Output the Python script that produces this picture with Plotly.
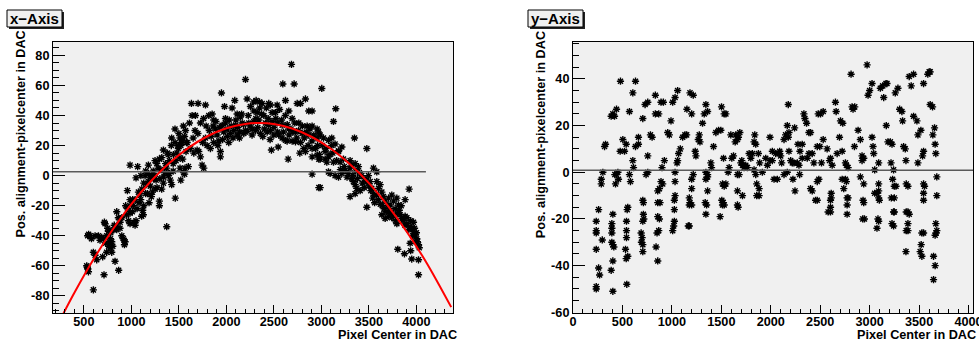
import plotly.graph_objects as go

# ---------------- data ----------------
LEFT_POINTS = [
    (600,-76),(712,-66),(866,-63),(828,-57),(530,-60),(541,-62),(548,-64),(536,-61),
    (600,-51),(618,-53),(635,-56),(698,-54),(740,-51),(793,-51),(804,-47),(769,-44),
    (540,-40),(565,-40),(618,-40),(653,-40),(688,-41),(705,-42),(670,-43),(550,-39),(580,-42),
    (723,-32),(716,-31),(758,-37),(783,-38),(740,-40),(793,-44),(776,-48),(846,-36),(846,-34),
    (899,-40),(916,-42),(934,-44),(927,-46),(923,-43),(863,-28),(881,-31),(846,-24),
    (951,-26),(986,-25),(1010,-24),(986,-32),(1028,-31),(1039,-33),(1049,-30),(1108,-27),(1126,-26),(1119,-23),
    (958,-10),(986,-16),(1014,-16),(1039,-16),(1074,-11),(1098,-16),
    (1049,-1.5),(1066,6),(986,7),(1144,0),(1179,1.5),(1196,-1),(1214,0),(1231,-2),
    (1186,-18),(1221,-11),(1249,-9),(1295,-20),(1295,-17),(1319,-9),(1337,-5),(1372,-34),(1389,0),(1424,-6),(1462,-15),(1400,1.5),
    (1295,11),(1337,17),(1389,14),(1442,14),(1494,18),(1512,25),(1547,33),(1459,31),(1424,25),(1512,5),(1564,5),(1529,22),(1575,16),
    (1249,10),(1179,7),(1267,8),
    (1100,0),(1150,3),(1180,-4),(1230,3),(1260,-3),(1280,5),(1320,12),(1340,-1),(1360,8),(1380,15),(1400,10),(1420,20),
    (1440,3),(1460,22),(1480,15),(1500,28),(1520,20),(1540,11),(1560,26),(1580,22),(1600,6),(1150,-12),(1160,-6),(1130,-20),
    (1550,2),(1560,1),(1520,-3),
    (730,-45),(750,-35),(760,-47),(780,-42),(810,-36),(820,-33),(880,-35),(900,-28),(940,-20),(960,-22),(970,-30),(1000,-19),
    (1020,-20),(1060,-22),(1080,-18),(1090,-13),(1110,-9),(1130,-5),(1170,-12),(1200,-7),(1210,-14),(1240,0),(1270,-8),
    (1300,-2),(1310,4),(1350,2),(1370,5),(1410,-3),(1440,8),(1470,10),(1490,20),(1510,12),(1530,24),(1570,30),
    (1632,48),(1702,48),(1780,47),(1639,40),(1674,40),(1611,35),(1727,35),(1787,33),(1815,40),(1850,41),(1867,37),
    (1948,55),(1980,46),(1990,38),(2088,50),(2060,45),(2113,41),(2148,39),(2201,64),(2218,51),(2253,46),(2288,49),
    (2313,50),(2348,49),(2376,48),(2323,42),(2394,40),(2446,48),(2464,47),(2481,42),(2534,47),(2516,42),(2622,50),
    (2594,61),(2685,74),(2713,61),(2657,43),(2692,38),(2745,48),(2780,48),(2832,51),(2867,43),(2902,43),(2762,35),
    (2850,33),(2902,33),(2955,31),
    (1587,22),(1622,18),(1657,15),(1692,17),(1727,12.5),(1744,7),(1762,5),(1709,16),(1797,20),(1832,18),(1867,22),
    (1902,27),(1920,23),(1937,16),(1937,12.5),(1972,29),(2008,31),(2025,22),(2043,28),(2078,30),(2113,27),(2137,25),
    (2183,28),(2218,29.5),(2271,31),(2306,30),(2358,28),(2383,26),(2429,29),(2464,30),(2499,27),(2551,27),(2587,25),
    (2622,23.5),(2639,23),(2692,23),(2727,22.5),(2474,17),(2545,19),(2650,11),(2773,15),(2815,18),(2832,16),(2902,12.5),
    (2902,1),(2973,-8),(2973,11),(2955,13.5),(2902,18),
    (1780,25),(1885,31),(1955,33.5),(2095,33.5),(2166,35),(2236,35),(2288,36),(2341,37),(2411,35),(2446,33.5),(2534,35),
    (2587,33.5),(2657,31),(2727,29),(2797,28),(2867,27),(2955,25),
    (1650,25),(1670,30),(1700,28),(1750,22),(1760,38),(1820,30),(1840,26),(1860,33),(1890,36),(1910,20),(1930,32),
    (1960,24),(1990,35),(2010,26),(2030,37),(2050,33),(2070,25),(2100,37),(2120,32),(2140,29),(2160,41),(2180,34),
    (2200,30),(2230,40),(2250,33),(2270,27),(2290,43),(2310,38),(2330,32),(2350,45),(2370,41),(2400,31),(2420,45),
    (2440,38),(2460,24),(2480,36),(2500,32),(2520,38),(2540,29),(2560,44),(2580,37),(2600,29),(2620,40),(2640,34),
    (2660,27),(2680,31),(2700,29),(2720,35),(2740,25),(2760,30),(2780,22),(2800,33),(2820,25),(2840,29),(2860,20),
    (2880,31),(2900,23),(2920,27),(2940,18),(2960,20),(2980,14),
    (3004,58),(3151,44.5),(3127,36),(3348,25),(3478,18),(3923,-9),(2969,29),(2987,27),(3022,25),(3074,23.5),(3109,25),
    (3144,21),(3180,16.5),(3215,19),(2987,11),(3039,11),(3057,9),(3074,12.5),(2987,-8),
    (3074,2.5),(3092,1.5),(3144,0),(3180,-1),(3215,1.5),(3250,3.5),(3302,10),(3320,7),(3355,8),(3390,6),
    (3285,1.5),(3320,-2),(3337,-4),(3355,-6),(3372,-8.5),(3408,-10),(3302,-14),(3355,-12),
    (3425,0),(3460,-2),(3495,0),(3513,-4),(3530,-8.5),(3548,-12),(3583,-4),(3601,-8.5),(3618,-6),(3478,-21),
    (3636,-11),(3653,-14),(3671,-17),(3706,-15),(3723,-19.5),(3741,-13),(3759,-17),(3794,-15),(3811,-19.5),(3881,-16),
    (3636,-26),(3671,-28.5),(3706,-27),(3723,-25),(3776,-22),(3794,-32),(3829,-26),(3846,-28.5),(3881,-27),(3899,-32),
    (3934,-34),(3969,-31),(3969,-37),(3987,-39.5),(4004,-42),(4022,-46),(3987,-44),(3951,-35),
    (3804,-49),(3874,-52),(3934,-45),(3951,-55.5),(4022,-56),(4022,-66),(3548,5),(3583,2.5),
    (3039,16),(3109,20),(3180,16),(3232,11),(3197,9),(3127,9),
    (3010,20),(3050,18),(3090,14),(3120,15),(3160,10),(3200,4),(3240,6),(3270,-1),(3300,5),(3330,0),(3360,3),(3380,-2),
    (3400,2),(3430,-5),(3450,-8),(3470,-4),(3500,-7),(3520,-10),(3540,-15),(3560,-18),(3580,-13),(3600,-16),(3620,-19),
    (3640,-20),(3660,-22),(3680,-24),(3700,-20),(3720,-23),(3740,-28),(3760,-26),(3780,-30),(3800,-25),(3820,-23),
    (3840,-20),(3860,-30),(3880,-33),(3900,-28),(3920,-36),(3940,-30),(3960,-40),(3980,-35),(4000,-38),(4010,-44),
    (4030,-48),(3940,-50),
]

RIGHT_POINTS = [
    (235,-49),(235,-50),(235,-33),(235,-25),(235,-26),(235,-21),(259,-16),(259,-41),(269,-44),(296,-29),(286,-3),(286,-5),
    (302,0),(329,12),(319,11),
    (386,24),(403,25),(420,24),(403,-18),(393,-22),(393,-24),(393,-26),(393,-30),(403,-31),(413,-32),(403,-38),(386,-42),
    (403,-51),(423,-1),(437,-1),(430,-5),(440,27),(454,0),(460,-3),
    (480,39),(477,9),(521,9),(504,14),(538,12),(541,-21),(541,-25),(541,-28),(531,-33),(554,-36),(538,-37),(544,-48),
    (548,-16),(554,-15),(571,-1),(581,-4),(571,26),(605,34),(605,5),(612,2),(632,39),(632,11),(662,12),(662,15),
    (756,7),(739,-1),(756,0),(706,23),
    (689,-26),(699,-28),(692,-30),(706,-31),(706,-34),(712,-18),(706,-21),(716,-20),(706,-12),(712,-13),(729,29),(756,30),
    (833,33),(833,25),(867,25),(783,16),(800,15),
    (857,-8),(874,-7),(857,-13),(880,-13),(857,-19),(874,-20),(867,-25),(850,-26),(840,-32),(857,-38),
    (890,30),(914,30),(900,2),(890,-4),(907,-5),(924,5),(958,17),(974,16),(991,22),
    (1008,30),(1032,32),(1058,35),(1032,0),(1032,-4),(1025,-12),(1032,-10),(1025,-16),(1025,-21),(1018,-23),(1008,-25),
    (1058,5),(1052,4),(1068,8),(1085,10),(1109,15),(1149,16),(1132,16),(1152,27),
    (1183,34),(1216,33),(1200,25),(1166,-23),(1176,-23),(1176,-11),(1183,-13),(1176,-14),(1200,-14),(1200,-7),(1200,-3),
    (1216,-1),(1236,9),(1243,7),(1277,16),(1284,13),(1267,14),(1310,21),
    (1327,25),(1361,26),(1344,29),(1344,0),(1361,-1),(1361,-2),(1344,-3),(1361,-8),(1337,-13),(1351,-14),(1344,-18),
    (1394,4),(1401,2),(1421,11),(1445,17),(1472,18),(1502,28),(1529,25),(1546,25),(1495,18),
    (1512,-5),(1529,-6),(1546,-5),(1505,-12),(1519,-13),(1529,-14),(1512,-14),(1488,-19),(1522,6),
    (1569,0),(1579,2),(1596,16),(1606,6),(1623,7),(1646,16),(1663,14),
    (1640,13),(1673,15),(1687,17),(1663,-1),(1680,-1),(1663,-8),(1663,-14),(1670,-15),
    (1697,4),(1714,3),(1707,5),(1714,-10),(1730,2),(1747,3),(1764,2),(1781,8),(1798,6),(1814,8),
    (1838,16),(1831,13),(1848,12),(1831,1),(1848,-1),(1858,-5),(1858,-10),(1882,-10),(1882,-7),(1875,8),(1888,4),
    (1915,0),(1949,6),(1966,3),(1992,5),(1992,15),(2016,9),(2016,5),(2033,-3),(2066,-3),(2050,8),(2083,8),
    (2090,9),(2100,7),(2110,4),(2134,14),(2150,16),(2177,15),(2177,29),(2167,20),(2184,17),(2134,-1),(2167,0),
    (2184,9),(2201,5),(2218,4),(2241,19),(2234,4),(2245,-8),(2224,-3),(2275,12),(2268,4),(2285,3),(2292,-1),(2295,9),
    (2335,25),(2345,23),(2362,21),(2318,12),(2318,6),(2369,6),(2386,8),(2386,17),(2402,17),(2402,-7),(2419,-8),
    (2436,4),(2419,8),(2470,11),(2453,-12),(2470,-12),(2480,25),(2503,25),(2470,-4),(2486,-3),(2513,4),(2530,26),
    (2496,11),(2530,14),(2570,10),
    (2580,-17),(2604,-17),(2604,-12),(2611,-11),(2611,-9),(2604,-15),(2594,5),(2604,6),(2621,3),(2654,30),(2661,26),
    (2695,15),(2705,22),(2728,21),(2671,8),(2722,-3),(2738,-7),(2755,-3),(2765,-4),
    (2772,-18),(2772,-11),(2782,-11),(2772,-14),(2722,9),(2755,4),(2765,3),(2782,2),
    (2812,42),(2822,28),(2832,27),(2849,28),(2846,11),(2883,18),(2906,14),(2906,-2),(2923,7),(2923,5),(2940,6),
    (2940,-5),(2933,-12),(2940,-13),(2930,-20),(2947,-20),
    (2974,46),(2984,33),(3000,35),(3024,38),(3024,15),(3034,11),(3041,8),(3051,1),(3051,-9),(3074,-9),
    (3091,-5),(3091,-8),(3091,-11),(3098,-12),(3084,-20),(3091,-21),(3074,-24),(3091,4),
    (3108,36),(3132,37),(3142,32),(3165,38),(3175,38),(3168,20),(3185,13),(3209,13),(3226,12),(3216,4),
    (3232,-3),(3219,-11),(3249,-11),(3226,-22),(3242,-23),(3242,1),(3242,-17),(3249,-17),(3249,-6),(3266,-6),
    (3259,34),(3286,36),(3303,27),(3326,26),(3333,22),(3343,11),(3360,10),(3367,5),(3370,-5),(3387,-6),
    (3400,41),(3444,42),(3420,37),
    (3370,-17),(3387,-17),(3400,-18),(3387,-22),(3370,-25),(3387,-25),(3367,-34),
    (3444,24),(3478,22),(3488,4),(3488,16),(3518,18),(3602,43),(3612,43),(3588,42),(3545,38),
    (3545,-5),(3555,-6),(3545,-9),(3545,-12),(3528,-26),(3545,-26),(3545,9),(3535,7),(3521,-31),(3511,-34),(3528,-36),
    (3612,29),(3636,28),(3639,16),(3656,19),(3662,12),(3669,8),(3679,-2),(3679,-10),
    (3669,-22),(3672,-26),(3662,-27),(3679,-25),(3646,-36),(3662,-40),(3646,-46),
]

# fitted curve (red)
FIT_X = [284, 400, 600, 800, 1000, 1200, 1400, 1600, 1800, 2000, 2200, 2350,
         2500, 2700, 2900, 3100, 3300, 3500, 3700, 3900, 4100, 4366]
FIT_Y = [-91.8, -77.9, -55.8, -36.2, -18.9, -4.1, 8.4, 18.5, 26.2, 31.5, 34.4, 35.0,
         34.3, 31.2, 25.7, 17.9, 7.6, -5.0, -20.1, -37.5, -57.3, -87.5]

# horizontal reference lines
HLINE_LEFT = {"y": 2.5, "x0": 175, "x1": 4100}
HLINE_RIGHT = {"y": 0.9, "x0": 0, "x1": 4080}

LEFT_XTICKS = [500, 1000, 1500, 2000, 2500, 3000, 3500, 4000]
LEFT_YTICKS = [-80, -60, -40, -20, 0, 20, 40, 60, 80]
RIGHT_XTICKS = [0, 500, 1000, 1500, 2000, 2500, 3000, 3500, 4000]
RIGHT_YTICKS = [-60, -40, -20, 0, 20, 40]

TITLE_LEFT = "x\u2212Axis"
TITLE_RIGHT = "y\u2212Axis"
XTITLE = "Pixel Center in DAC"
YTITLE = "Pos. alignment-pixelcenter in DAC"

# ---------------- figure ----------------
W, H = 979, 343
ML, MR, MT, MB = 0, 0, 42, 30
PH = H - MT - MB
FONT = "Liberation Sans, Arial, Helvetica, sans-serif"


def px(xp):
    return xp / W


def py(yp):
    return (H - MB - yp) / PH


fig = go.Figure()

marker = dict(symbol="asterisk-open", size=6, color="black",
              line=dict(color="black", width=1.4))

fig.add_trace(go.Scatter(x=[p[0] for p in LEFT_POINTS], y=[p[1] for p in LEFT_POINTS],
                         mode="markers", marker=marker, xaxis="x", yaxis="y",
                         showlegend=False, hoverinfo="skip"))
fig.add_trace(go.Scatter(x=[HLINE_LEFT["x0"], HLINE_LEFT["x1"]], y=[HLINE_LEFT["y"]] * 2,
                         mode="lines", line=dict(color="#5a5a5a", width=1.5),
                         xaxis="x", yaxis="y", showlegend=False, hoverinfo="skip"))
fig.add_trace(go.Scatter(x=FIT_X, y=FIT_Y, mode="lines",
                         line=dict(color="#ff0000", width=2, shape="spline", smoothing=1.0),
                         xaxis="x", yaxis="y", showlegend=False, hoverinfo="skip"))

fig.add_trace(go.Scatter(x=[p[0] for p in RIGHT_POINTS], y=[p[1] for p in RIGHT_POINTS],
                         mode="markers", marker=marker, xaxis="x2", yaxis="y2",
                         showlegend=False, hoverinfo="skip"))
fig.add_trace(go.Scatter(x=[HLINE_RIGHT["x0"], HLINE_RIGHT["x1"]], y=[HLINE_RIGHT["y"]] * 2,
                         mode="lines", line=dict(color="#5a5a5a", width=1.5),
                         xaxis="x2", yaxis="y2", showlegend=False, hoverinfo="skip"))

tickfont = dict(family=FONT, size=12.7, color="black", weight="bold")


def xaxis_cfg(domain, rng, ticks, anchor):
    return dict(domain=domain, range=rng, anchor=anchor,
                tickmode="array", tickvals=ticks, ticktext=[str(t) for t in ticks],
                ticks="inside", ticklen=8, tickwidth=1, tickcolor="black",
                minor=dict(ticks="inside", ticklen=4, dtick=100, tick0=0, tickcolor="black", showgrid=False),
                showline=True, linecolor="black", linewidth=1, mirror=True,
                showgrid=False, zeroline=False, tickfont=tickfont, automargin=False,
                ticklabeloverflow="allow", ticklabelstandoff=-3)


def yaxis_cfg(domain, rng, ticks, anchor):
    return dict(domain=domain, range=rng, anchor=anchor,
                tickmode="array", tickvals=ticks, ticktext=[str(t) for t in ticks],
                ticks="inside", ticklen=12, tickwidth=1, tickcolor="black",
                minor=dict(ticks="inside", ticklen=6, dtick=5, tick0=0, tickcolor="black", showgrid=False),
                showline=True, linecolor="black", linewidth=1, mirror=True,
                showgrid=False, zeroline=False, tickfont=tickfont, automargin=False)


fig.update_layout(
    width=W, height=H,
    margin=dict(l=ML, r=MR, t=MT, b=MB),
    paper_bgcolor="white", plot_bgcolor="#f0f0f0",
    xaxis=xaxis_cfg([px(53), px(453)], [175, 4385], LEFT_XTICKS, "y"),
    yaxis=yaxis_cfg([0, 1], [-91.4, 88.9], LEFT_YTICKS, "x"),
    xaxis2=xaxis_cfg([px(573), px(973)], [0, 4045], RIGHT_XTICKS, "y2"),
    yaxis2=yaxis_cfg([0, 1], [-60.3, 55.8], RIGHT_YTICKS, "x2"),
    font=dict(family=FONT, color="black"),
)

shapes = []
annotations = []
for (bx0, bx1, title) in [(7, 62, TITLE_LEFT), (528, 583, TITLE_RIGHT)]:
    by0, by1 = 10, 27
    shapes.append(dict(type="rect", xref="paper", yref="paper",
                       x0=px(bx0 + 2), x1=px(bx1 + 2), y0=py(by1 + 2), y1=py(by0 + 2),
                       fillcolor="#222222", line=dict(width=0)))
    shapes.append(dict(type="rect", xref="paper", yref="paper",
                       x0=px(bx0), x1=px(bx1), y0=py(by1), y1=py(by0),
                       fillcolor="#f0f0f0", line=dict(color="black", width=1)))
    annotations.append(dict(text="<b>" + title + "</b>", xref="paper", yref="paper",
                            x=px((bx0 + bx1) / 2), y=py((by0 + by1) / 2),
                            xanchor="center", yanchor="middle", showarrow=False,
                            font=dict(family=FONT, size=15, color="black")))

for xc in (20, 540.7):
    annotations.append(dict(text="<b>" + YTITLE + "</b>", xref="paper", yref="paper",
                            x=px(xc), y=py(29), xanchor="center", yanchor="top",
                            textangle=-90, showarrow=False,
                            font=dict(family=FONT, size=12.7, color="black")))

for xr in (459, 978):
    annotations.append(dict(text="<b>" + XTITLE + "</b>", xref="paper", yref="paper",
                            x=px(xr), y=py(335), xanchor="right", yanchor="middle",
                            showarrow=False,
                            font=dict(family=FONT, size=12.7, color="black")))

fig.update_layout(shapes=shapes, annotations=annotations)

fig.write_html("out.html", config={"displayModeBar": False},
               post_script="document.body.style.margin='0px';")
